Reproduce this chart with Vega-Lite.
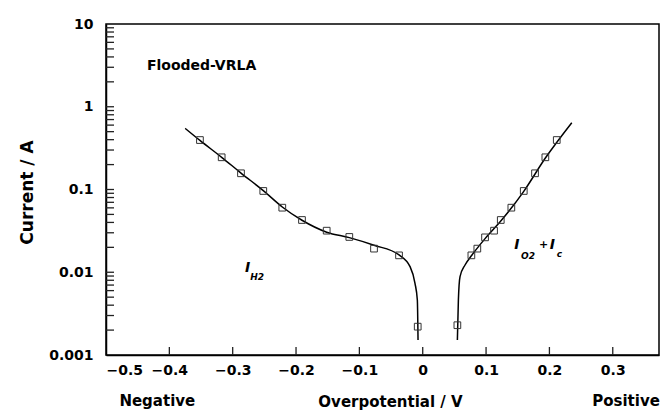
{
  "$schema": "https://vega.github.io/schema/vega-lite/v6.json",
  "width": 553,
  "height": 331,
  "autosize": {"type": "none"},
  "padding": {"left": 106, "top": 24, "right": 3, "bottom": 56},
  "background": "white",
  "config": {
    "view": {"stroke": "black", "strokeWidth": 1.5, "fill": null},
    "font": "DejaVu Sans",
    "axis": {
      "grid": false,
      "domainColor": "black",
      "domainWidth": 1.5,
      "labelFont": "DejaVu Sans",
      "labelFontWeight": "bold",
      "labelFontSize": 14,
      "labelColor": "black",
      "titleFont": "DejaVu Sans",
      "titleFontWeight": "bold",
      "titleColor": "black"
    }
  },
  "datasets": {
    "markers": [
      {"side": "H2", "x": -0.3517, "y": 0.396},
      {"side": "H2", "x": -0.3174, "y": 0.245},
      {"side": "H2", "x": -0.2869, "y": 0.157},
      {"side": "H2", "x": -0.2517, "y": 0.096},
      {"side": "H2", "x": -0.2217, "y": 0.0603},
      {"side": "H2", "x": -0.1906, "y": 0.0428},
      {"side": "H2", "x": -0.1516, "y": 0.0318},
      {"side": "H2", "x": -0.1159, "y": 0.0267},
      {"side": "H2", "x": -0.0769, "y": 0.0193},
      {"side": "H2", "x": -0.0374, "y": 0.016},
      {"side": "H2", "x": -0.0079, "y": 0.0022},
      {"side": "O2", "x": 0.0547, "y": 0.00229},
      {"side": "O2", "x": 0.0768, "y": 0.016},
      {"side": "O2", "x": 0.0862, "y": 0.0193},
      {"side": "O2", "x": 0.0984, "y": 0.0264},
      {"side": "O2", "x": 0.1126, "y": 0.0318},
      {"side": "O2", "x": 0.1232, "y": 0.0428},
      {"side": "O2", "x": 0.1399, "y": 0.0603},
      {"side": "O2", "x": 0.1595, "y": 0.096},
      {"side": "O2", "x": 0.1773, "y": 0.157},
      {"side": "O2", "x": 0.1936, "y": 0.245},
      {"side": "O2", "x": 0.2116, "y": 0.396}
    ],
    "curve": [
      {"side": "H2", "x": -0.375, "y": 0.548},
      {"side": "H2", "x": -0.3517, "y": 0.392},
      {"side": "H2", "x": -0.3174, "y": 0.245},
      {"side": "H2", "x": -0.2869, "y": 0.158},
      {"side": "H2", "x": -0.2517, "y": 0.097},
      {"side": "H2", "x": -0.2217, "y": 0.0615},
      {"side": "H2", "x": -0.1906, "y": 0.0425},
      {"side": "H2", "x": -0.1516, "y": 0.0305},
      {"side": "H2", "x": -0.1159, "y": 0.0262},
      {"side": "H2", "x": -0.0769, "y": 0.0212},
      {"side": "H2", "x": -0.0374, "y": 0.0162},
      {"side": "H2", "x": -0.020, "y": 0.0117},
      {"side": "H2", "x": -0.0122, "y": 0.00735},
      {"side": "H2", "x": -0.0085, "y": 0.00462},
      {"side": "H2", "x": -0.0074, "y": 0.00152},
      {"side": "O2", "x": 0.0547, "y": 0.00152},
      {"side": "O2", "x": 0.0563, "y": 0.00462},
      {"side": "O2", "x": 0.0589, "y": 0.00885},
      {"side": "O2", "x": 0.0668, "y": 0.01224},
      {"side": "O2", "x": 0.0768, "y": 0.0158},
      {"side": "O2", "x": 0.0984, "y": 0.0255},
      {"side": "O2", "x": 0.1232, "y": 0.0415},
      {"side": "O2", "x": 0.1595, "y": 0.095},
      {"side": "O2", "x": 0.1936, "y": 0.24},
      {"side": "O2", "x": 0.2353, "y": 0.642}
    ],
    "xticks": [
      {"v": -0.4, "at": 0.001}, {"v": -0.3, "at": 0.001}, {"v": -0.2, "at": 0.001}, {"v": -0.1, "at": 0.001},
      {"v": 0, "at": 0.001}, {"v": 0.1, "at": 0.001}, {"v": 0.2, "at": 0.001}, {"v": 0.3, "at": 0.001}
    ],
    "yticks": [
      {"v": 0.002, "at": -0.5}, {"v": 0.003, "at": -0.5}, {"v": 0.004, "at": -0.5}, {"v": 0.005, "at": -0.5},
      {"v": 0.006, "at": -0.5}, {"v": 0.007, "at": -0.5}, {"v": 0.008, "at": -0.5}, {"v": 0.009, "at": -0.5},
      {"v": 0.01, "at": -0.5}, {"v": 0.02, "at": -0.5}, {"v": 0.03, "at": -0.5}, {"v": 0.04, "at": -0.5},
      {"v": 0.05, "at": -0.5}, {"v": 0.06, "at": -0.5}, {"v": 0.07, "at": -0.5}, {"v": 0.08, "at": -0.5},
      {"v": 0.09, "at": -0.5}, {"v": 0.1, "at": -0.5}, {"v": 0.2, "at": -0.5}, {"v": 0.3, "at": -0.5},
      {"v": 0.4, "at": -0.5}, {"v": 0.5, "at": -0.5}, {"v": 0.6, "at": -0.5}, {"v": 0.7, "at": -0.5},
      {"v": 0.8, "at": -0.5}, {"v": 0.9, "at": -0.5}, {"v": 1, "at": -0.5}, {"v": 2, "at": -0.5},
      {"v": 3, "at": -0.5}, {"v": 4, "at": -0.5}, {"v": 5, "at": -0.5}, {"v": 6, "at": -0.5},
      {"v": 7, "at": -0.5}, {"v": 8, "at": -0.5}, {"v": 9, "at": -0.5}
    ],
    "labels": [
      {"t": "I", "x": -0.2806, "y": 0.0111},
      {"t": "I", "x": 0.1443, "y": 0.02134},
      {"t": "I", "x": 0.2005, "y": 0.02134}
    ],
    "subs": [
      {"t": "H2", "x": -0.2723, "y": 0.00877},
      {"t": "O2", "x": 0.1553, "y": 0.0157},
      {"t": "c", "x": 0.2115, "y": 0.01663}
    ],
    "plus": [
      {"t": "+", "x": 0.1836, "y": 0.0212}
    ],
    "notes": [
      {"t": "Flooded-VRLA", "x": -0.4354, "y": 3.108}
    ],
    "axisnotes": [
      {"t": "Negative", "x": -0.419, "y": 0.000278},
      {"t": "Positive", "x": 0.321, "y": 0.000278}
    ]
  },
  "layer": [
    {
      "data": {"name": "curve"},
      "mark": {"type": "line", "color": "black", "strokeWidth": 1.5, "interpolate": "monotone"},
      "encoding": {
        "x": {
          "field": "x", "type": "quantitative",
          "scale": {"domain": [-0.5, 0.373], "nice": false, "zero": false},
          "axis": {
            "orient": "bottom",
            "values": [-0.5, -0.4, -0.3, -0.2, -0.1, 0, 0.1, 0.2, 0.3],
            "format": "~g",
            "ticks": false,
            "labelPadding": 8,
            "title": "Overpotential / V",
            "titleFontSize": 15,
            "titleX": 284,
            "titleY": 46,
            "titleBaseline": "middle"
          }
        },
        "y": {
          "field": "y", "type": "quantitative",
          "scale": {"type": "log", "domain": [0.001, 10], "nice": false},
          "axis": {
            "orient": "left",
            "values": [0.001, 0.01, 0.1, 1, 10],
            "format": "~g",
            "ticks": false,
            "labelPadding": 13,
            "title": "Current / A",
            "titleFontSize": 17,
            "titleX": -79,
            "titleY": 168,
            "titleBaseline": "middle"
          }
        },
        "detail": {"field": "side"}
      }
    },
    {
      "data": {"name": "xticks"},
      "mark": {"type": "point", "shape": "M0,0L0,-2", "size": 64, "filled": false, "strokeWidth": 1.3, "color": "#222", "opacity": 1},
      "encoding": {
        "x": {"field": "v", "type": "quantitative"},
        "y": {"field": "at", "type": "quantitative"}
      }
    },
    {
      "data": {"name": "yticks"},
      "mark": {"type": "point", "shape": "M0,0L2,0", "size": 64, "filled": false, "strokeWidth": 1.3, "color": "#222", "opacity": 1},
      "encoding": {
        "x": {"field": "at", "type": "quantitative"},
        "y": {"field": "v", "type": "quantitative"}
      }
    },
    {
      "data": {"name": "markers"},
      "mark": {"type": "point", "shape": "square", "filled": false, "color": "#333", "size": 45, "strokeWidth": 1, "opacity": 1},
      "encoding": {
        "x": {"field": "x", "type": "quantitative"},
        "y": {"field": "y", "type": "quantitative"}
      }
    },
    {
      "data": {"name": "labels"},
      "mark": {"type": "text", "font": "DejaVu Sans", "fontSize": 14, "fontWeight": "bold", "fontStyle": "italic", "align": "left", "baseline": "middle", "color": "black"},
      "encoding": {
        "x": {"field": "x", "type": "quantitative"},
        "y": {"field": "y", "type": "quantitative"},
        "text": {"field": "t"}
      }
    },
    {
      "data": {"name": "subs"},
      "mark": {"type": "text", "font": "DejaVu Sans", "fontSize": 9, "fontWeight": "bold", "fontStyle": "italic", "align": "left", "baseline": "middle", "color": "black"},
      "encoding": {
        "x": {"field": "x", "type": "quantitative"},
        "y": {"field": "y", "type": "quantitative"},
        "text": {"field": "t"}
      }
    },
    {
      "data": {"name": "plus"},
      "mark": {"type": "text", "font": "DejaVu Sans", "fontSize": 11, "fontWeight": "bold", "align": "left", "baseline": "middle", "color": "black"},
      "encoding": {
        "x": {"field": "x", "type": "quantitative"},
        "y": {"field": "y", "type": "quantitative"},
        "text": {"field": "t"}
      }
    },
    {
      "data": {"name": "notes"},
      "mark": {"type": "text", "font": "DejaVu Sans", "fontSize": 14, "fontWeight": "bold", "align": "left", "baseline": "middle", "color": "black"},
      "encoding": {
        "x": {"field": "x", "type": "quantitative"},
        "y": {"field": "y", "type": "quantitative"},
        "text": {"field": "t"}
      }
    },
    {
      "data": {"name": "axisnotes"},
      "mark": {"type": "text", "font": "DejaVu Sans", "fontSize": 15, "fontWeight": "bold", "align": "center", "baseline": "middle", "color": "black"},
      "encoding": {
        "x": {"field": "x", "type": "quantitative"},
        "y": {"field": "y", "type": "quantitative"},
        "text": {"field": "t"}
      }
    }
  ]
}
